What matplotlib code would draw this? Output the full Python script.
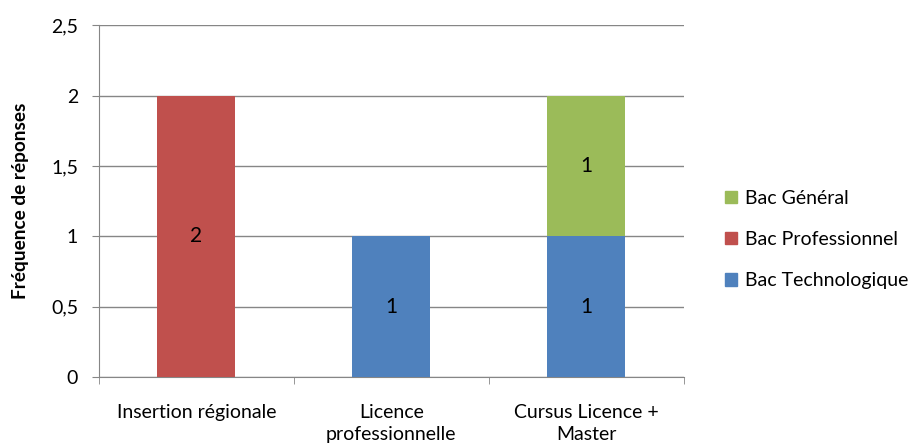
import numpy as np
from matplotlib import pyplot as plt
from matplotlib.patches import Patch

categories = ["Insertion régionale", "Licence\nprofessionnelle", "Cursus Licence +\nMaster"]
series_names = ["Bac Technologique", "Bac Professionnel", "Bac Général"]
techno = [0, 1, 1]
pro = [2, 0, 0]
general = [0, 0, 1]
colors = ["#4F81BD", "#C0504D", "#9BBB59"]
yticks = [0, 0.5, 1, 1.5, 2, 2.5]

plt.rcParams["font.family"] = ["Lato", "DejaVu Sans"]

fig = plt.figure(figsize=(9.08, 4.48), dpi=100)
ax = fig.add_axes([0.109, 0.158, 0.644, 0.786])

x = np.arange(len(categories))
bottom = np.zeros(len(categories))
for vals, name, col in zip([techno, pro, general], series_names, colors):
    vals = np.array(vals, dtype=float)
    ax.bar(x, vals, width=0.4, bottom=bottom, color=col, zorder=3, label=name)
    for xi, v, b in zip(x, vals, bottom):
        if v > 0:
            ax.text(xi, b + v / 2, f"{int(v)}", ha="center", va="center",
                    fontsize=15, color="black", zorder=4)
    bottom += vals

ax.set_xlim(-0.5, len(categories) - 0.5)
ax.set_ylim(0, 2.5)
ax.set_yticks(yticks)
ax.set_yticklabels([f"{t:g}".replace(".", ",") for t in yticks], fontsize=14)
ax.yaxis.grid(True, color="#868686", linewidth=1, zorder=0)
ax.set_xticks(x)
ax.set_xticklabels(categories, fontsize=14, linespacing=1.4)
ax.set_xticks(np.arange(-0.5, len(categories)), minor=True)
ax.tick_params(axis="x", which="major", length=0, pad=19)
ax.tick_params(axis="x", which="minor", length=5, color="#868686")
ax.tick_params(axis="y", length=5, color="#868686", pad=10)
for s in ["top", "right"]:
    ax.spines[s].set_visible(False)
for s in ["left", "bottom"]:
    ax.spines[s].set_color("#868686")
ax.set_ylabel("Fréquence de réponses", fontsize=13.7, fontweight="bold", labelpad=16)

handles = [Patch(color=c) for c in colors][::-1]
fig.legend(handles, series_names[::-1], loc="center left", bbox_to_anchor=(0.79, 0.465),
           frameon=False, fontsize=14, handlelength=0.6, handleheight=0.6,
           labelspacing=1.25, handletextpad=0.4, borderaxespad=0)

fig.savefig("out.png", dpi=100)
